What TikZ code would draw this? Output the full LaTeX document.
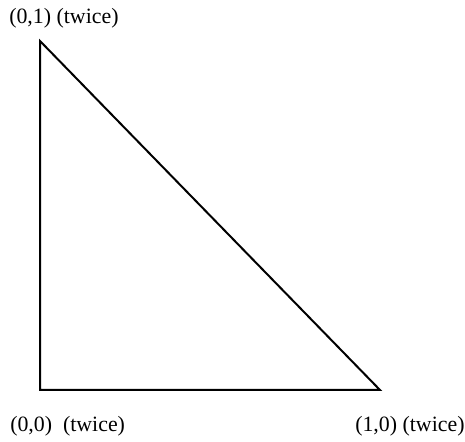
\documentclass[tikz,border=0pt]{standalone}
\usepackage{fontspec}
\setmainfont{Liberation Serif}
\begin{document}
\begin{tikzpicture}[x=0.75pt,y=-0.75pt,
  lbl/.style={anchor=west,inner sep=0pt,font=\fontsize{16.4}{18}\selectfont},
  edge/.style={line width=1.5pt,line join=miter}]
\useasboundingbox (0,0) rectangle (465,442);
\coordinate (top) at (40,41);
\coordinate (bl) at (40,390);
\coordinate (br) at (380,390);
\draw[edge] (top) -- (bl) -- (br) -- cycle;
\node[lbl] (t1) at (9,18) {(0,1) (twice)};
\node[lbl] (t2) at (10,426) {(0,0)\ \ (twice)};
\node[lbl] (t3) at (355,426) {(1,0) (twice)};
\end{tikzpicture}
\end{document}
